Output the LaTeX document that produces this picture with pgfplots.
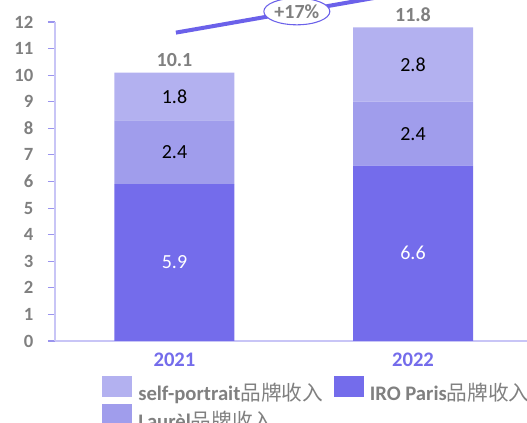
\documentclass[border=0pt]{standalone}
\usepackage{fontspec}
\setmainfont{Carlito}
\newfontfamily\cjk{Noto Sans CJK SC}
\usepackage{pgfplots}
\pgfplotsset{compat=1.18}
\usetikzlibrary{shapes.geometric}
\definecolor{cA}{HTML}{746CEB}
\definecolor{cB}{HTML}{A09DEC}
\definecolor{cC}{HTML}{B3B1F0}
\definecolor{axl}{HTML}{C8C5F6}
\definecolor{tk}{HTML}{9A94EE}
\definecolor{gr}{HTML}{808080}
\definecolor{ln}{HTML}{6B61EA}
\begin{document}
\begin{tikzpicture}
\begin{axis}[
  scale only axis, width=354pt, height=239.25pt,
  xmin=-0.501, xmax=1.478, ymin=0, ymax=12,
  ybar stacked, bar width=90pt,
  axis x line*=bottom, axis y line*=left,
  x axis line style={axl, line width=1.5pt},
  y axis line style={axl, line width=1pt},
  ytick={0,1,...,12},
  xtick={0,1}, xticklabels={2021,2022},
  tick align=outside, major tick length=5.25pt,
  ytick style={tk, line width=0.8pt},
  xtick style={draw=none},
  /pgf/number format/assume math mode=true,
  yticklabel style={font=\bfseries\fontsize{14}{14}\selectfont, text=gr, xshift=-7.5pt},
  xticklabel style={font=\bfseries\fontsize{15.5}{15.5}\selectfont, text=cA, yshift=0pt},
  clip=false,
  legend columns=2,
  legend style={at={(0,0)}, anchor=north west, xshift=35.25pt, yshift=-26pt,
    draw=none, fill=none, inner sep=0pt,
    nodes={inner sep=0pt, text height=12pt, text depth=3pt},
    font=\fontsize{15.5}{15.5}\selectfont, text=gr,
    /tikz/every odd column/.append style={column sep=4.5pt},
    /tikz/every even column/.append style={column sep=8pt},
    row sep=-1pt},
  legend cell align=left,
  legend image code/.code={\fill[#1] (0pt,-1.5pt) rectangle (22.5pt,14.25pt);},
]
\addplot[fill=cA, draw=none, forget plot] coordinates {(0,5.9) (1,6.6)};
\addplot[fill=cB, draw=none, forget plot] coordinates {(0,2.4) (1,2.4)};
\addplot[fill=cC, draw=none, forget plot] coordinates {(0,1.8) (1,2.8)};
\addlegendimage{fill=cC, draw=none}
\addlegendentry{\textbf{self-portrait}{\cjk 品牌收入}}
\addlegendimage{fill=cA, draw=none}
\addlegendentry{\textbf{IRO Paris}{\cjk 品牌收入}}
\addlegendimage{fill=cB, draw=none}
\addlegendentry{\textbf{Laurèl}{\cjk 品牌收入}}
\coordinate (bl) at (rel axis cs:0,0);
\coordinate (tr) at (rel axis cs:1,1);
\coordinate (a1) at (axis cs:0,2.95);
\coordinate (a2) at (axis cs:0,7.1);
\coordinate (a3) at (axis cs:0,9.2);
\coordinate (b1) at (axis cs:1,3.3);
\coordinate (b2) at (axis cs:1,7.8);
\coordinate (b3) at (axis cs:1,10.4);
% totals
\node[text=gr, font=\bfseries\fontsize{15}{15}\selectfont] at (axis cs:0,10.57) {10.1};
\node[text=gr, font=\bfseries\fontsize{15}{15}\selectfont] at (axis cs:1,12.27) {11.8};
% growth line
\draw[ln, line width=3pt] (axis cs:0.006,11.6) -- (axis cs:1,13.16)
  node[pos=0.51, ellipse, draw=ln, line width=0.8pt, fill=white, minimum width=49.5pt, minimum height=20pt, inner sep=0pt, text=gr, font=\bfseries\fontsize{15}{15}\selectfont] {+17\%};
\end{axis}
\begin{scope}[every node/.style={font=\fontsize{15}{15}\selectfont}]
\node[text=white] at (a1) {5.9};
\node[text=black] at (a2) {2.4};
\node[text=black] at (a3) {1.8};
\node[text=white] at (b1) {6.6};
\node[text=black] at (b2) {2.4};
\node[text=black] at (b3) {2.8};
\end{scope}
\pgfresetboundingbox
\useasboundingbox ([shift={(-41.25pt,-61.5pt)}]bl) rectangle ([shift={(0pt,16.5pt)}]tr);
\end{tikzpicture}
\end{document}
